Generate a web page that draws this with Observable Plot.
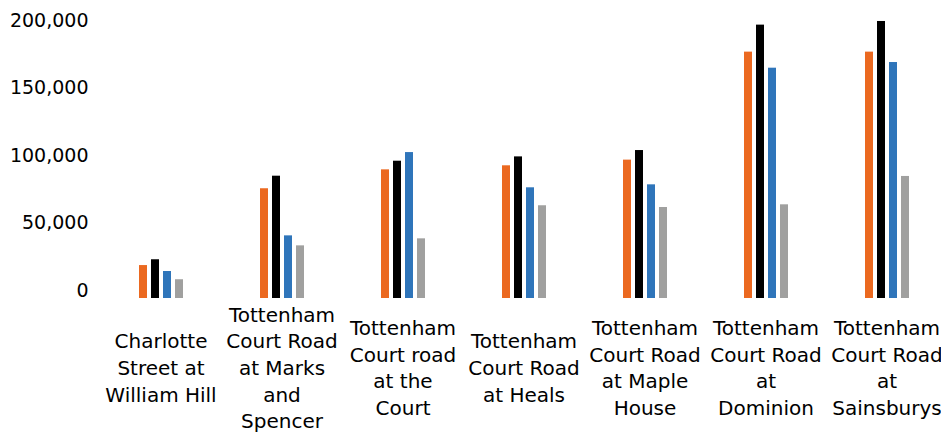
<!DOCTYPE html>
<html><head><meta charset="utf-8">
<script src="https://cdn.jsdelivr.net/npm/d3@7"></script>
<script src="https://cdn.jsdelivr.net/npm/@observablehq/plot@0.6"></script>
<style>body{margin:0;background:#fff}</style>
</head><body><div id="chart"></div>
<script>
const categories = [
  "Charlotte\nStreet at\nWilliam Hill",
  "Tottenham\nCourt Road\nat Marks\nand\nSpencer",
  "Tottenham\nCourt road\nat the\nCourt",
  "Tottenham\nCourt Road\nat Heals",
  "Tottenham\nCourt Road\nat Maple\nHouse",
  "Tottenham\nCourt Road\nat\nDominion",
  "Tottenham\nCourt Road\nat\nSainsburys"
];
const seriesNames = ["Series 1", "Series 2", "Series 3", "Series 4"];
const series1 = [24400, 81300, 95300, 98300, 102500, 182500, 182500];
const series2 = [28700, 90600, 101700, 104900, 109600, 202500, 205200];
const series3 = [20000, 46400, 108100, 82000, 84200, 170600, 174800];
const series4 = [13900, 39000, 44200, 68700, 67400, 69400, 90400];
const seriesColors = ["#EB6920", "#000000", "#2F75BA", "#A0A09F"];
const yTicks = [0, 50000, 100000, 150000, 200000];

const allSeries = [series1, series2, series3, series4];
const rows = [];
categories.forEach((c, i) => {
  seriesNames.forEach((s, j) => rows.push({category: c, series: s, value: allSeries[j][i]}));
});

const chart = Plot.plot({
  width: 941,
  height: 433,
  marginLeft: 100,
  marginRight: 0,
  marginTop: 21,
  marginBottom: 135,
  style: {fontFamily: "DejaVu Sans", fontSize: "19px", color: "#000", overflow: "visible", background: "#fff"},
  fx: {domain: categories, range: [100, 947.6], padding: 0, label: null, axis: null},
  x: {domain: seriesNames, paddingInner: 0.355, paddingOuter: 3.06, axis: null},
  y: {domain: [0, 200000], range: [298, 28], label: null, axis: null},
  color: {domain: seriesNames, range: seriesColors},
  marks: [
    Plot.barY(rows, {fx: "category", x: "series", y: "value", fill: "series"}),
    Plot.axisY({ticks: yTicks, tickSize: 0, tickPadding: 12, dy: -8, tickFormat: d3.format(","), fontSize: 19, label: null}),
    Plot.axisFx({anchor: "bottom", tickSize: 0, tickPadding: 68, lineAnchor: "middle", lineHeight: 1.33, fontSize: 20, label: null})
  ]
});
document.getElementById("chart").appendChild(chart);
</script>
</body></html>
